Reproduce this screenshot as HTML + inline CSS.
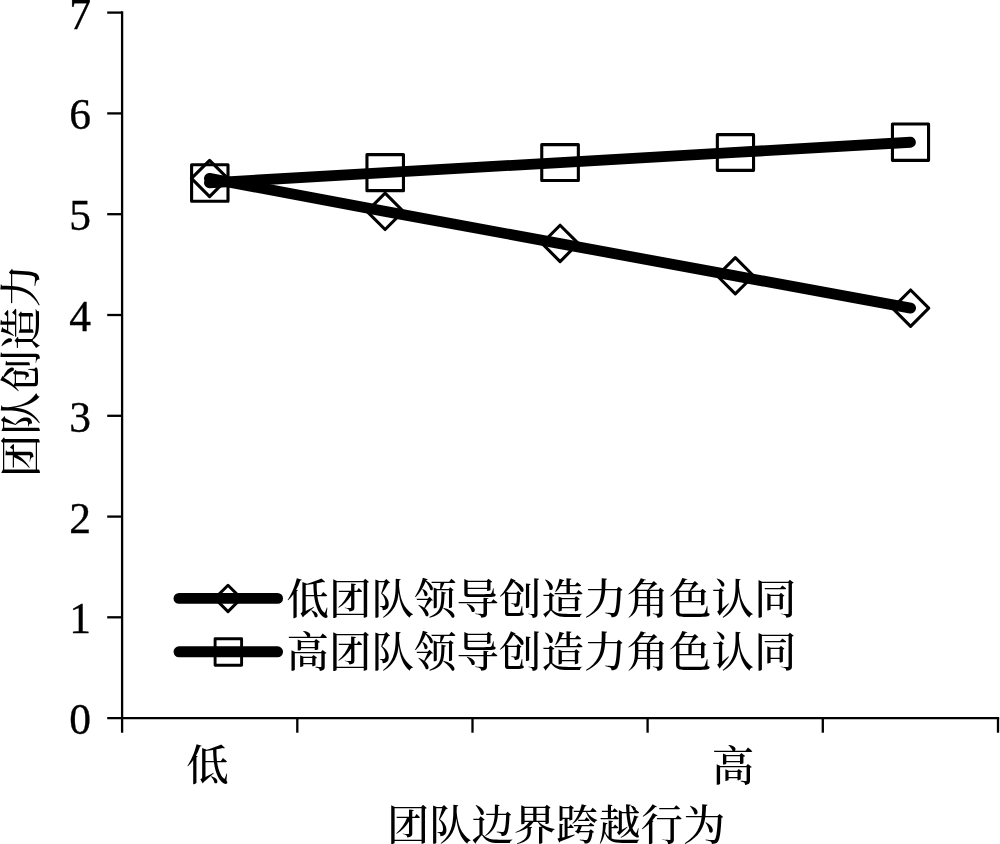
<!DOCTYPE html>
<html lang="zh-CN">
<head>
<meta charset="utf-8">
<title>团队边界跨越行为 — 团队创造力</title>
<style>
html,body{margin:0;padding:0;background:#fff;}
body{width:1000px;height:844px;overflow:hidden;}
svg{display:block;}
text{font-family:"Liberation Serif","Noto Serif CJK SC",serif;fill:#000;}
.cjk{font-size:42.5px;font-weight:500;}
.num{font-size:43.5px;stroke:#000;stroke-width:0.35px;}
</style>
</head>
<body>
<svg width="1000" height="844" viewBox="0 0 1000 844">
<rect x="0" y="0" width="1000" height="844" fill="#fff"/>
<!-- axes -->
<g stroke="#000" stroke-width="2.3" fill="none" stroke-linecap="butt">
<line x1="122.1" y1="11.35" x2="122.1" y2="732.7"/>
<line x1="107.2" y1="718.05" x2="999.15" y2="718.05"/>
<line x1="107.2" y1="12.6" x2="122.1" y2="12.6"/>
<line x1="107.2" y1="113.4" x2="122.1" y2="113.4"/>
<line x1="107.2" y1="214.2" x2="122.1" y2="214.2"/>
<line x1="107.2" y1="315.0" x2="122.1" y2="315.0"/>
<line x1="107.2" y1="415.8" x2="122.1" y2="415.8"/>
<line x1="107.2" y1="516.6" x2="122.1" y2="516.6"/>
<line x1="107.2" y1="617.3" x2="122.1" y2="617.3"/>
<line x1="297.3" y1="718.05" x2="297.3" y2="732.7"/>
<line x1="472.5" y1="718.05" x2="472.5" y2="732.7"/>
<line x1="647.6" y1="718.05" x2="647.6" y2="732.7"/>
<line x1="822.8" y1="718.05" x2="822.8" y2="732.7"/>
<line x1="998" y1="718.05" x2="998" y2="732.7"/>
</g>
<!-- y tick labels -->
<g class="num" text-anchor="end">
<text x="91" y="28.5">7</text>
<text x="91" y="129.3">6</text>
<text x="91" y="230.1">5</text>
<text x="91" y="330.9">4</text>
<text x="91" y="431.7">3</text>
<text x="91" y="532.5">2</text>
<text x="91" y="633.3">1</text>
<text x="91" y="734.1">0</text>
</g>
<!-- series markers -->
<g stroke="#000" stroke-width="3.1" fill="none" stroke-linejoin="round">
<rect x="191.60" y="164.70" width="36.40" height="36.50"/>
<rect x="366.95" y="154.65" width="36.50" height="36.00"/>
<rect x="541.75" y="144.65" width="36.60" height="35.80"/>
<rect x="717.35" y="134.65" width="36.20" height="35.70"/>
<rect x="892.45" y="123.95" width="36.10" height="36.40"/>
<path d="M209.60 160.30 L227.75 178.45 L209.60 196.60 L191.45 178.45 Z"/>
<path d="M385.10 193.20 L403.25 211.35 L385.10 229.50 L366.95 211.35 Z"/>
<path d="M560.10 225.25 L578.25 243.40 L560.10 261.55 L541.95 243.40 Z"/>
<path d="M735.30 257.60 L753.45 275.75 L735.30 293.90 L717.15 275.75 Z"/>
<path d="M910.60 290.00 L928.75 308.15 L910.60 326.30 L892.45 308.15 Z"/>
</g>
<!-- series lines -->
<g stroke="#000" stroke-width="10.8" fill="none" stroke-linecap="round" stroke-linejoin="round">
<polyline points="209.4,182.8 385.2,172.7 560.1,162.55 735.45,152.4 910.5,142.25"/>
<polyline points="209.4,178.4 385.1,211.4 560.1,243.6 735.3,275.9 910.6,308.1"/>
</g>
<!-- legend -->
<g stroke="#000" stroke-width="2.9" fill="none" stroke-linejoin="round">
<path d="M228 585.2 L241.2 598.4 L228 611.6 L214.8 598.4 Z"/>
<rect x="215.1" y="638.7" width="26.5" height="26.5"/>
</g>
<g stroke="#000" stroke-width="10.9" fill="none" stroke-linecap="round">
<line x1="179" y1="598.4" x2="277.6" y2="598.4"/>
<line x1="179" y1="651.8" x2="277.6" y2="651.8"/>
</g>
<g class="cjk">
<text x="286.4" y="613.5">低团队领导创造力角色认同</text>
<text x="286.4" y="667">高团队领导创造力角色认同</text>
<text x="207.6" y="780" text-anchor="middle">低</text>
<text x="733" y="780.6" text-anchor="middle">高</text>
<text x="556.1" y="839.8" text-anchor="middle" style="font-size:42.3px">团队边界跨越行为</text>
<text transform="translate(35.6 371) rotate(-90)" text-anchor="middle">团队创造力</text>
</g>
</svg>
</body>
</html>
